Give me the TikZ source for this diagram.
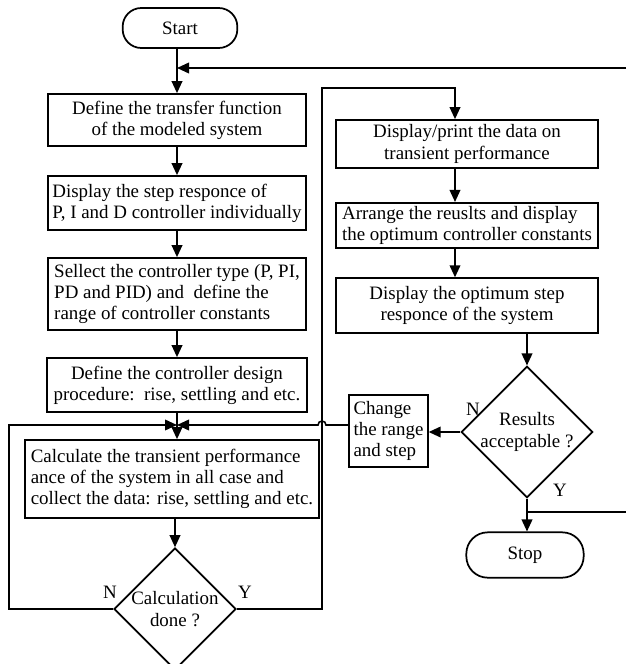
\documentclass[tikz,border=0pt]{standalone}
\usepackage{fontspec}
\setmainfont{Liberation Serif}
\usepackage{tikz}
\usetikzlibrary{shapes.geometric, arrows.meta, calc}
\tikzset{
  block/.style={draw, line width=1.3pt, inner sep=1pt, font=\fontsize{14.2}{15.9}\selectfont},
  term/.style={block, rounded corners=14pt},
  decide/.style={draw, diamond, line width=1.3pt, inner sep=0pt, align=center, font=\fontsize{14.2}{15.9}\selectfont},
  flow/.style={line width=1.2pt, -{Triangle[length=9pt,width=8pt]}},
  wire/.style={line width=1pt},
  tag/.style={font=\fontsize{14.2}{15.9}\selectfont}
}

\begin{document}
\begin{tikzpicture}[x=0.75pt, y=-0.75pt]
\useasboundingbox (0,0) rectangle (626,664);

% left column
\node[term, minimum width=86pt, minimum height=30pt] (start) at (180,28) {Start};
\node[block, minimum width=194pt, minimum height=39pt, align=center] (def) at (177,120) {Define the transfer function\\of the modeled system};
\node[block, minimum width=194pt, minimum height=40.5pt, align=left] (resp) at (177,203) {Display the step responce of\\P, I and D controller individually};
\node[block, minimum width=194pt, minimum height=54pt, align=left] (sel) at (177,294) {Sellect the controller type (P, PI,\\PD and PID) and\ \ define the\\range of controller constants};
\node[block, minimum width=195pt, minimum height=40.5pt, align=center] (proc) at (177,385) {Define the controller design\\procedure:\ \ rise, settling and etc.};
\node[block, minimum width=220.5pt, minimum height=58.5pt, align=left] (calc) at (172,479) {Calculate the transient performance\\ance of the system in all case and\\collect the data: rise, settling and etc.};
\node[decide, minimum width=87pt, minimum height=84pt] (done) at (175,609) {Calculation\\done ?};

% right column
\node[block, minimum width=196pt, minimum height=36pt, align=center] (show) at (467,144) {Display/print the data on\\transient performance};
\node[block, minimum width=196pt, minimum height=34pt, align=left] (arrange) at (467,225.5) {Arrange the reuslts and display\\the optimum controller constants};
\node[block, minimum width=196pt, minimum height=41pt, align=center] (optim) at (467,305.5) {Display the optimum step\\responce of the system};
\node[decide, minimum width=88pt, minimum height=84pt] (ok) at (527,432) {Results\\acceptable ?};
\node[block, minimum width=59pt, minimum height=54pt, align=left] (change) at (388.5,431) {Change\\the range\\and step};
\node[term, minimum width=88pt, minimum height=34pt, rounded corners=16pt] (stop) at (525,555) {Stop};

\node[tag] (doneN) at (110,592) {N};
\node[tag] (doneY) at (245,592) {Y};
\node[tag] (okN) at (473,409) {N};
\node[tag] (okY) at (560,490) {Y};

\coordinate (fb) at (177,68);
\coordinate (fbR) at (626,68);
\coordinate (jn) at (177,425);
\coordinate (loopL) at (9,425);
\coordinate (loopR) at (322,88);
\coordinate (topR) at (455,88);
\coordinate (hop) at (326,425);
\coordinate (yes) at (527,512);
\coordinate (yesR) at (626,512);

% connectors
\draw[wire] (start.south -| fb) -- (fb);
\draw[flow] (fb) -- (def);
\draw[flow] (fbR) -- (fb);
\draw[flow] (def) -- (resp);
\draw[flow] (resp) -- (sel);
\draw[flow] (sel) -- (proc);
\draw[flow] (proc) -- (jn) -- (jn |- calc.north);
\draw[flow] (calc.south -| done.north) -- (done.north);
\draw[flow] (done.west) -| (loopL) -- (jn);
\draw[flow] (done.east) -| (loopR) -- (topR) -- (topR |- show.north);
\draw[flow] (change.west |- jn) -- (hop) arc[start angle=0, end angle=180, radius=3pt] -- (jn);

\draw[flow] (show.south -| topR) -- (arrange.north -| topR);
\draw[flow] (arrange.south -| topR) -- (optim.north -| topR);
\draw[flow] (optim.south -| ok.north) -- (ok.north);
\draw[flow] (ok.west) -- (ok.west -| change.east);
\draw[flow] (ok.south) -- (ok.south |- stop.north);
\draw[wire] (yes) -- (yesR);
\end{tikzpicture}
\end{document}
